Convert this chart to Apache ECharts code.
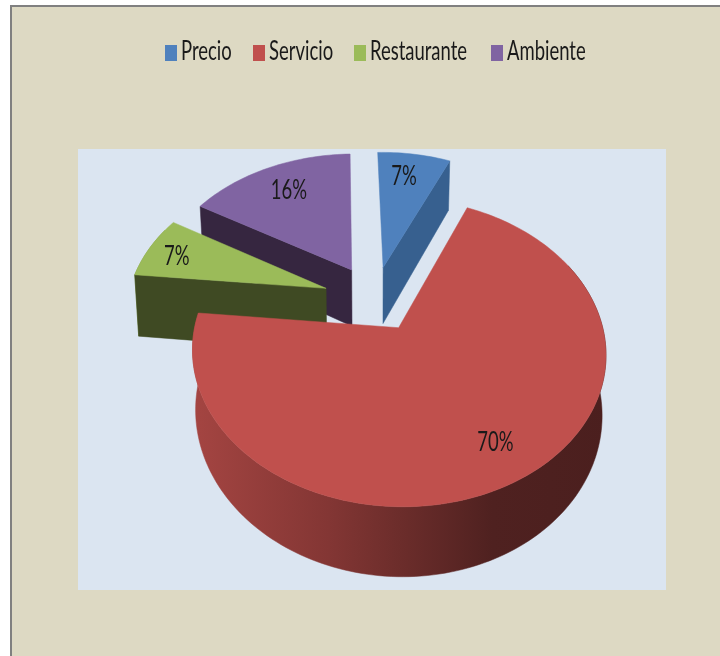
<!DOCTYPE html>
<html><head><meta charset="utf-8">
<style>html,body{margin:0;padding:0;background:#fff}#c{width:720px;height:656px}</style>
<script src="https://cdn.jsdelivr.net/npm/echarts@6/dist/echarts.min.js"></script>
</head><body><div id="c"></div>
<script>
const categories = ['Precio', 'Servicio', 'Restaurante', 'Ambiente'];
const values = [7, 70, 7, 16];
const labels = ['7%', '70%', '7%', '16%'];
const topColors = ['#4F81BD', '#C0504D', '#9BBB59', '#8064A2'];
const cutColors = ['#37608F', '#6e2c29', '#3F4A23', '#362640'];
const paintOrder = [3, 2, 0, 1]; // back to front: Ambiente, Restaurante, Precio, Servicio
const FONT = 'Lato,"Open Sans",sans-serif';
const TEXT_SQUEEZE = 0.71;

// perspective view of the exploded pie
const view = {cx: 376, cy: 297, rx: 198, ry: 141.5, k: 0.156, bottomScale: 0.983, explode: 0.22, startDeg: -1.5, labelR: 0.78};
const depths = [58, 57, 63, 58];
const nudges = [[-1, 0], [0, 3], [-9, 1], [-3, -1]];
const labelNudges = [[-4, 0], [4, 1], [-11, 1], [4, 2]];
const legendX = [165, 253, 354, 491];
const total = values.reduce((a, b) => a + b, 0);
function project(U, V, depth) {
  const s = 1 / (1 - view.k * V);
  return [view.cx + view.rx * U * s * (depth ? view.bottomScale : 1),
          view.cy + view.ry * V * s + depth * s];
}
function makeRender(idx) {
  return function (params, api) {
    const val = api.value(0);
    let before = 0;
    for (let i = 0; i < idx; i++) before += values[i];
    const a0 = (view.startDeg + before / total * 360) * Math.PI / 180;
    const a1 = a0 + val / total * 2 * Math.PI;
    const mid = (a0 + a1) / 2;
    const ou = view.explode * Math.sin(mid), ov = -view.explode * Math.cos(mid);
    const d = depths[idx];
    const at = (a, r) => [ou + r * Math.sin(a), ov - r * Math.cos(a)];
    const steps = Math.max(12, Math.round((a1 - a0) * 40));
    const arcTop = [], arcLow = [], wallTop = [], wallLow = [];
    for (let i = 0; i <= steps; i++) {
      const a = a0 + (a1 - a0) * i / steps;
      const p = at(a, 1);
      const t = project(p[0], p[1], 0), l = project(p[0], p[1], d);
      arcTop.push(t); arcLow.push(l);
      if (Math.cos(a) < 0.45) { wallTop.push(t); wallLow.push(l); }
    }
    const apexT = project(ou, ov, 0), apexL = project(ou, ov, d);
    const base = echarts.color.parse(topColors[idx]);
    const shade = f => 'rgb(' + base.slice(0, 3).map(c => Math.round(c * f)).join(',') + ')';
    const wallFill = new echarts.graphic.LinearGradient(190, 0, 610, 0, [
      {offset: 0, color: shade(0.86)}, {offset: 0.33, color: shade(0.68)},
      {offset: 0.5, color: shade(0.56)}, {offset: 0.72, color: shade(0.41)}, {offset: 1, color: shade(0.39)}
    ], true);
    const poly = (pts, fill) => ({type: 'polygon', shape: {points: pts}, style: {fill: fill, stroke: fill, lineWidth: 0.5}});
    const children = [];
    if (wallTop.length > 1) children.push(poly(wallTop.concat(wallLow.slice().reverse()), wallFill));
    // cut faces turned toward the viewer only
    const camU = -ou, camV = 1 / view.k - ov;
    const seen = (nA) => Math.sin(nA) * camU - Math.cos(nA) * camV > 0.5;
    if (seen(a0 - Math.PI / 2)) children.push(poly([apexT, arcTop[0], arcLow[0], apexL], cutColors[idx]));
    if (seen(a1 + Math.PI / 2)) children.push(poly([apexT, arcTop[steps], arcLow[steps], apexL], cutColors[idx]));
    children.push(poly([apexT].concat(arcTop), topColors[idx]));
    const lp = at(mid, view.labelR), lxy = project(lp[0], lp[1], 0);
    children.push({type: 'text', x: lxy[0] + labelNudges[idx][0], y: lxy[1] + labelNudges[idx][1], scaleX: TEXT_SQUEEZE,
      style: {text: labels[idx], x: 0, y: 0, align: 'center', verticalAlign: 'middle', font: '26px ' + FONT, fill: '#1a1a1a'}});
    return {type: 'group', x: nudges[idx][0], y: nudges[idx][1], children: children};
  };
}
const legendGraphics = [];
categories.forEach((name, i) => {
  legendGraphics.push({type: 'rect', z: 5, shape: {x: legendX[i], y: 45, width: 12, height: 16}, style: {fill: topColors[i]}});
  legendGraphics.push({type: 'text', z: 5, x: legendX[i] + 16, y: 52, scaleX: TEXT_SQUEEZE,
    style: {text: name, x: 0, y: 0, verticalAlign: 'middle', font: '26px ' + FONT, fill: '#1a1a1a'}});
});
const chart = echarts.init(document.getElementById('c'), null, {renderer: 'canvas'});
chart.setOption({
  animation: false,
  graphic: [
    {type: 'rect', z: -5, shape: {x: 11, y: 6, width: 720, height: 660}, style: {fill: '#DDD9C3', stroke: '#808080', lineWidth: 2}},
    {type: 'rect', z: -4, shape: {x: 78, y: 149, width: 588, height: 441}, style: {fill: '#DBE5F1'}}
  ].concat(legendGraphics),
  series: paintOrder.map(i => ({
    type: 'custom', name: categories[i], coordinateSystem: 'none', silent: true,
    itemStyle: {color: topColors[i]},
    data: [[values[i]]], renderItem: makeRender(i)
  }))
});
</script></body></html>
